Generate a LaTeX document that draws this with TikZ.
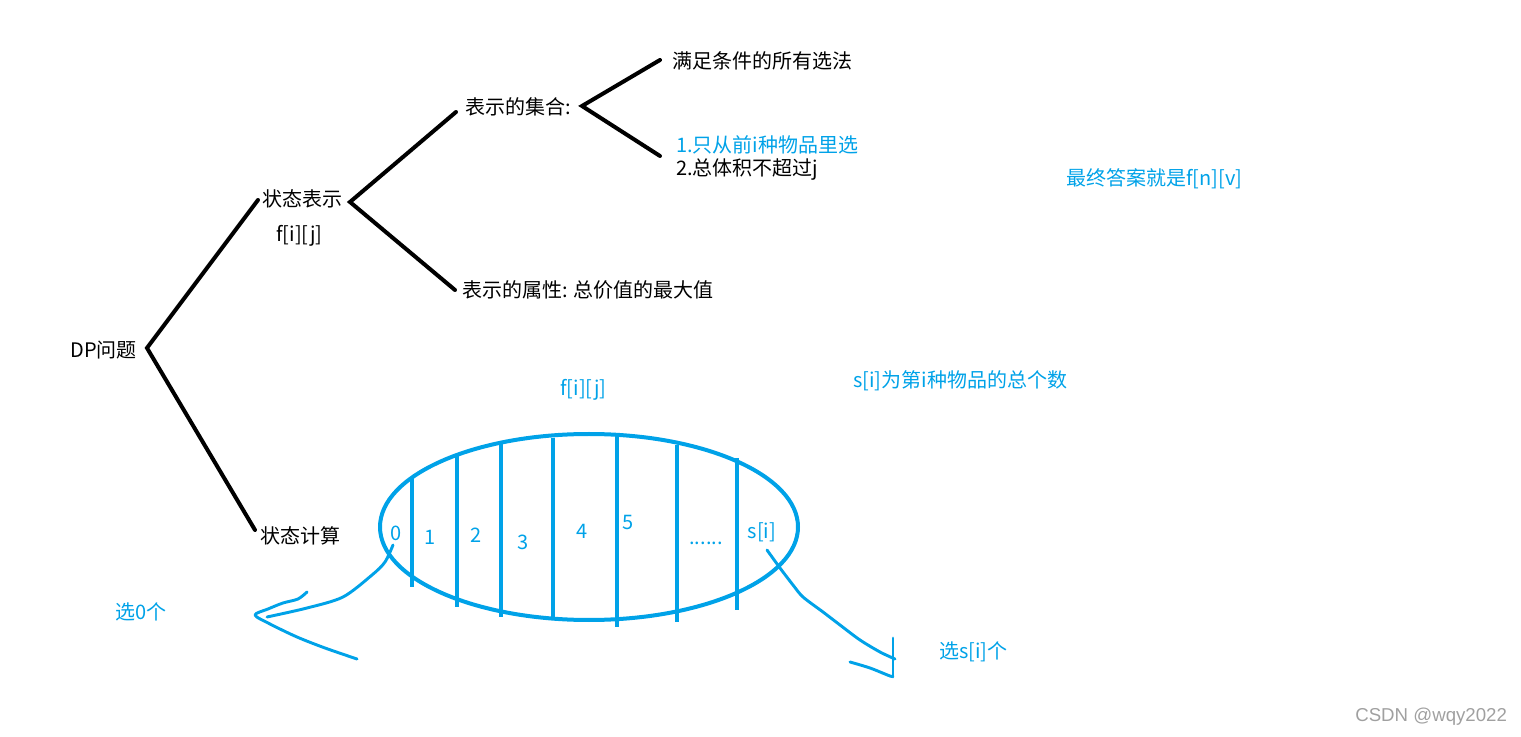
\documentclass[tikz,border=0pt]{standalone}
\usepackage{fontspec}
\setmainfont{Noto Sans CJK SC}
\newfontfamily\wmfont{Liberation Sans}
\usetikzlibrary{shapes.geometric}
\definecolor{pblue}{RGB}{0,162,232}
\definecolor{wmgray}{RGB}{160,160,160}
\begin{document}
\begin{tikzpicture}[x=0.75pt,y=-0.75pt,
  txt/.style={anchor=west, inner sep=0pt, font=\fontsize{15}{18}\selectfont},
  btxt/.style={txt, text=pblue},
  num/.style={inner sep=0pt, text=pblue, font=\fontsize{15}{18}\selectfont},
  tree/.style={line width=3pt, line cap=round},
  bar/.style={pblue, line width=3pt},
  hand/.style={pblue, line width=2.2pt, line cap=round, line join=round},
]
\useasboundingbox (0,0) rectangle (1521,737);
% tree texts
\node[txt] (dp) at (70,350) {DP问题};
\node[txt] (zt) at (262,199) {状态表示};
\node[txt] (fij) at (276,236) {f[i][j]};
\node[txt] (jh) at (465,107) {表示的集合:};
\node[txt] (all) at (672,61) {满足条件的所有选法};
\node[btxt] (c1) at (676,145) {1.只从前i种物品里选};
\node[txt] (c2) at (676,170) {2.总体积不超过j};
\node[txt] (sx) at (462,290) {表示的属性: 总价值的最大值};
\node[txt] (js) at (260,536) {状态计算};
% blue notes
\node[btxt] (ans) at (1066,179) {最终答案就是f[n][v]};
\node[btxt] (si) at (853,381) {s[i]为第i种物品的总个数};
\node[btxt] (fij2) at (560,390) {f[i][j]};
\node[btxt] (x0) at (115,612) {选0个};
\node[btxt] (xs) at (939,652) {选s[i]个};
\node[anchor=west, inner sep=0pt, text=wmgray, font=\wmfont\fontsize{14}{16}\selectfont] (wm) at (1355,717) {CSDN @wqy2022};
% junction coordinates
\coordinate (dpR) at (147,348);
\coordinate (ztL) at (258,200);
\coordinate (jsL) at (255,530);
\coordinate (ztR) at (350,202);
\coordinate (jhL) at (456,112);
\coordinate (sxL) at (455,290);
\coordinate (jhR) at (582,106);
\coordinate (allL) at (660,60);
\coordinate (cL) at (660,156);
% tree connectors
\draw[tree] (ztL) -- (dpR) -- (jsL);
\draw[tree] (jhL) -- (ztR) -- (sxL);
\draw[tree] (allL) -- (jhR) -- (cL);
% ellipse
\node[ellipse, draw=pblue, line width=3pt, minimum width=313.5pt, minimum height=139.5pt, inner sep=0pt] (ell) at (589,527) {};
\draw[bar] (412,477) -- (412,587);
\draw[bar] (457,455) -- (457,607);
\draw[bar] (501,442) -- (501,617);
\draw[bar] (553,438) -- (553,620);
\draw[bar] (617,435) -- (617,627);
\draw[bar] (677,445) -- (677,622);
\draw[bar] (737,458) -- (737,610);
% numbers
\node[num] (n0) at (396,533) {0};
\node[num] (n1) at (430,537) {1};
\node[num] (n2) at (476,535) {2};
\node[num] (n3) at (523,542) {3};
\node[num] (n4) at (582,531) {4};
\node[num] (n5) at (628,523) {5};
\node[num] (ndots) at (706,543) {......};
\node[num] (nsi) at (762,532) {s[i]};
% hand arrows
\draw[hand] plot[smooth, tension=0.5] coordinates {(393,545) (385,562) (372,575) (343,597) (307,608) (267,617)};
\draw[hand] plot[smooth, tension=0.5] coordinates {(307,592) (298,599) (283,603) (268,609) (255,615) (270,624) (297,637) (325,648) (357,659)};
\draw[hand] plot[smooth, tension=0.5] coordinates {(767,550) (780,568) (793,585) (803,597) (823,612) (840,625) (860,640) (880,652) (895,659)};
\draw[hand] (893,638) -- (893,677);
\draw[hand] plot[smooth, tension=0.5] coordinates {(850,662) (870,668) (890,676) (893,676)};
\end{tikzpicture}
\end{document}
